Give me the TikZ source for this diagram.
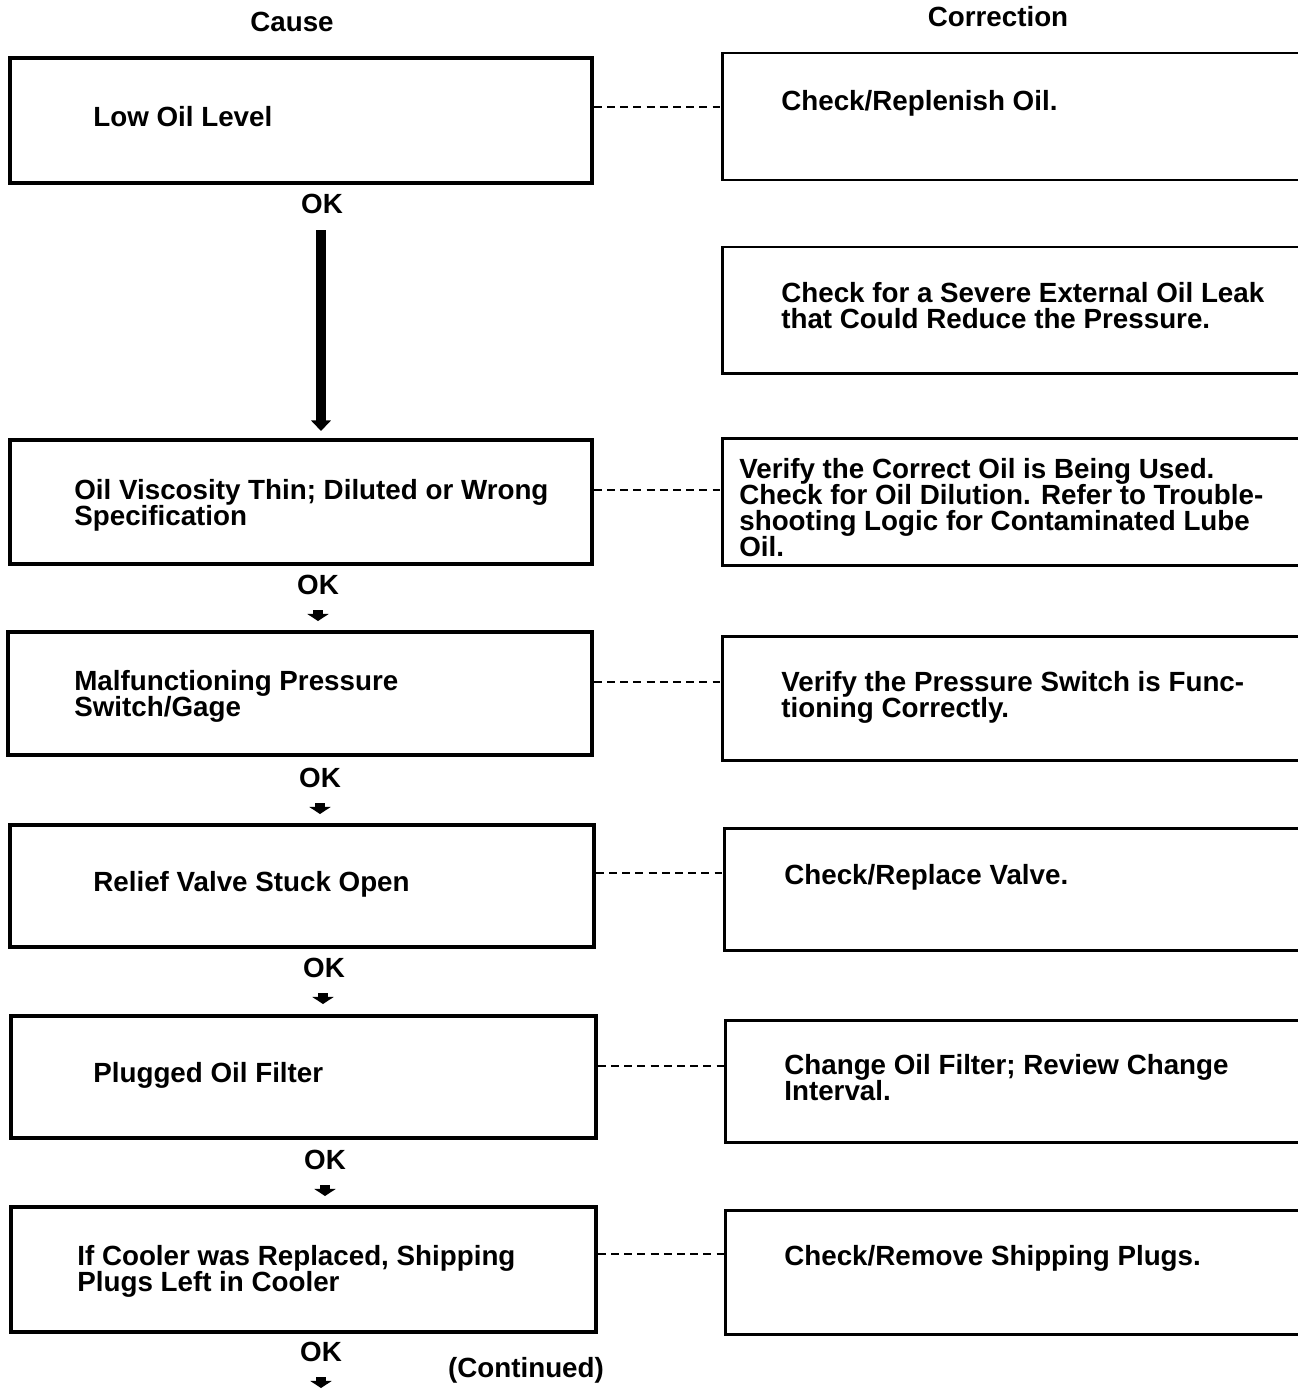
\documentclass[tikz,border=0pt]{standalone}
\usepackage{fontspec}
\setmainfont{Liberation Sans}
\usetikzlibrary{arrows.meta}
\begin{document}
\begin{tikzpicture}[x=0.02cm,y=-0.02cm,
  txt/.style={font=\fontsize{15.8}{14.8}\selectfont\bfseries, inner sep=0pt},
  body/.style={txt, anchor=north west, align=left},
  causebox/.style 2 args={draw, line width=2.2pt, minimum width={#1*0.02cm}, minimum height={#2*0.02cm}, inner sep=0pt},
  fixbox/.style 2 args={draw, line width=1.7pt, minimum width={#1*0.02cm}, minimum height={#2*0.02cm}, inner sep=0pt},
  link/.style={line width=1.4pt, dash pattern=on 4.5pt off 3pt},
  okarrow/.style={line width=6pt, -{Triangle[width=12pt,length=4pt]}},
  bigarrow/.style={line width=5.5pt, -{Triangle[width=11pt,length=6pt]}}]
\useasboundingbox (0,0) rectangle (1298,1390);

% column headings
\node[txt] (hcause) at (292,22) {Cause};
\node[txt] (hfix) at (998,17) {Correction};

% cause boxes
\node[causebox={582}{125}] (c1) at (301,120.5) {};
\node[causebox={582}{124}] (c2) at (301,502) {};
\node[causebox={584}{123}] (c3) at (300,693.5) {};
\node[causebox={584}{122}] (c4) at (302,886) {};
\node[causebox={585}{122}] (c5) at (303.5,1077) {};
\node[causebox={585}{125}] (c6) at (303.5,1269.5) {};

% correction boxes (running off the right edge)
\node[fixbox={588}{127}] (r1) at (1016,116.5) {};
\node[fixbox={588}{126}] (r2) at (1016,310) {};
\node[fixbox={588}{127}] (r3) at (1016,501.5) {};
\node[fixbox={588}{124}] (r4) at (1016,698) {};
\node[fixbox={586}{122}] (r5) at (1017,889) {};
\node[fixbox={585}{122}] (r6) at (1017.5,1081) {};
\node[fixbox={585}{124}] (r7) at (1017.5,1272) {};

% box texts
\node[body] (t1) at (93,106) {Low Oil Level};
\node[body] (t2) at (74,479) {Oil Viscosity Thin; Diluted or Wrong\\Specification};
\node[body] (t3) at (74,670) {Malfunctioning Pressure\\Switch/Gage};
\node[body] (t4) at (93,871) {Relief Valve Stuck Open};
\node[body] (t5) at (93,1062) {Plugged Oil Filter};
\node[body] (t6) at (77,1245) {If Cooler was Replaced, Shipping\\Plugs Left in Cooler};

\node[body] (s1) at (781,90) {Check/Replenish Oil.};
\node[body] (s2) at (781,282) {Check for a Severe External Oil Leak\\that Could Reduce the Pressure.};
\node[body] (s3) at (739,458) {Verify the Correct Oil is Being Used.\\Check for Oil Dilution. Refer to Trouble-\\shooting Logic for Contaminated Lube\\Oil.};
\node[body] (s4) at (781,671) {Verify the Pressure Switch is Func-\\tioning Correctly.};
\node[body] (s5) at (784,864) {Check/Replace Valve.};
\node[body] (s6) at (784,1054) {Change Oil Filter; Review Change\\Interval.};
\node[body] (s7) at (784,1245) {Check/Remove Shipping Plugs.};

% dashed links cause -> correction
\draw[link] (c1.east |- 0,107) -- (r1.west |- 0,107);
\draw[link] (c2.east |- 0,490) -- (r3.west |- 0,490);
\draw[link] (c3.east |- 0,682) -- (r4.west |- 0,682);
\draw[link] (c4.east |- 0,873) -- (r5.west |- 0,873);
\draw[link] (c5.east |- 0,1066) -- (r6.west |- 0,1066);
\draw[link] (c6.east |- 0,1254) -- (r7.west |- 0,1254);

% OK labels
\node[txt] (ok1) at (322,204) {OK};
\node[txt] (ok2) at (318,585) {OK};
\node[txt] (ok3) at (320,778) {OK};
\node[txt] (ok4) at (324,968) {OK};
\node[txt] (ok5) at (325,1160) {OK};
\node[txt] (ok6) at (321,1352) {OK};

% long flow arrow into the second cause box
\coordinate (a1s) at (321,230);
\draw[bigarrow] (a1s) -- (a1s |- 0,431);

% short flow arrows below the OK labels
\coordinate (a2) at (318,610); \draw[okarrow] (a2) -- ++(0,11);
\coordinate (a3) at (320,803); \draw[okarrow] (a3) -- ++(0,11);
\coordinate (a4) at (323,993); \draw[okarrow] (a4) -- ++(0,11);
\coordinate (a5) at (325,1185); \draw[okarrow] (a5) -- ++(0,11);
\coordinate (a6) at (321,1377); \draw[okarrow] (a6) -- ++(0,11);

\node[txt] (cont) at (526,1370) {(Continued)};
\end{tikzpicture}
\end{document}
